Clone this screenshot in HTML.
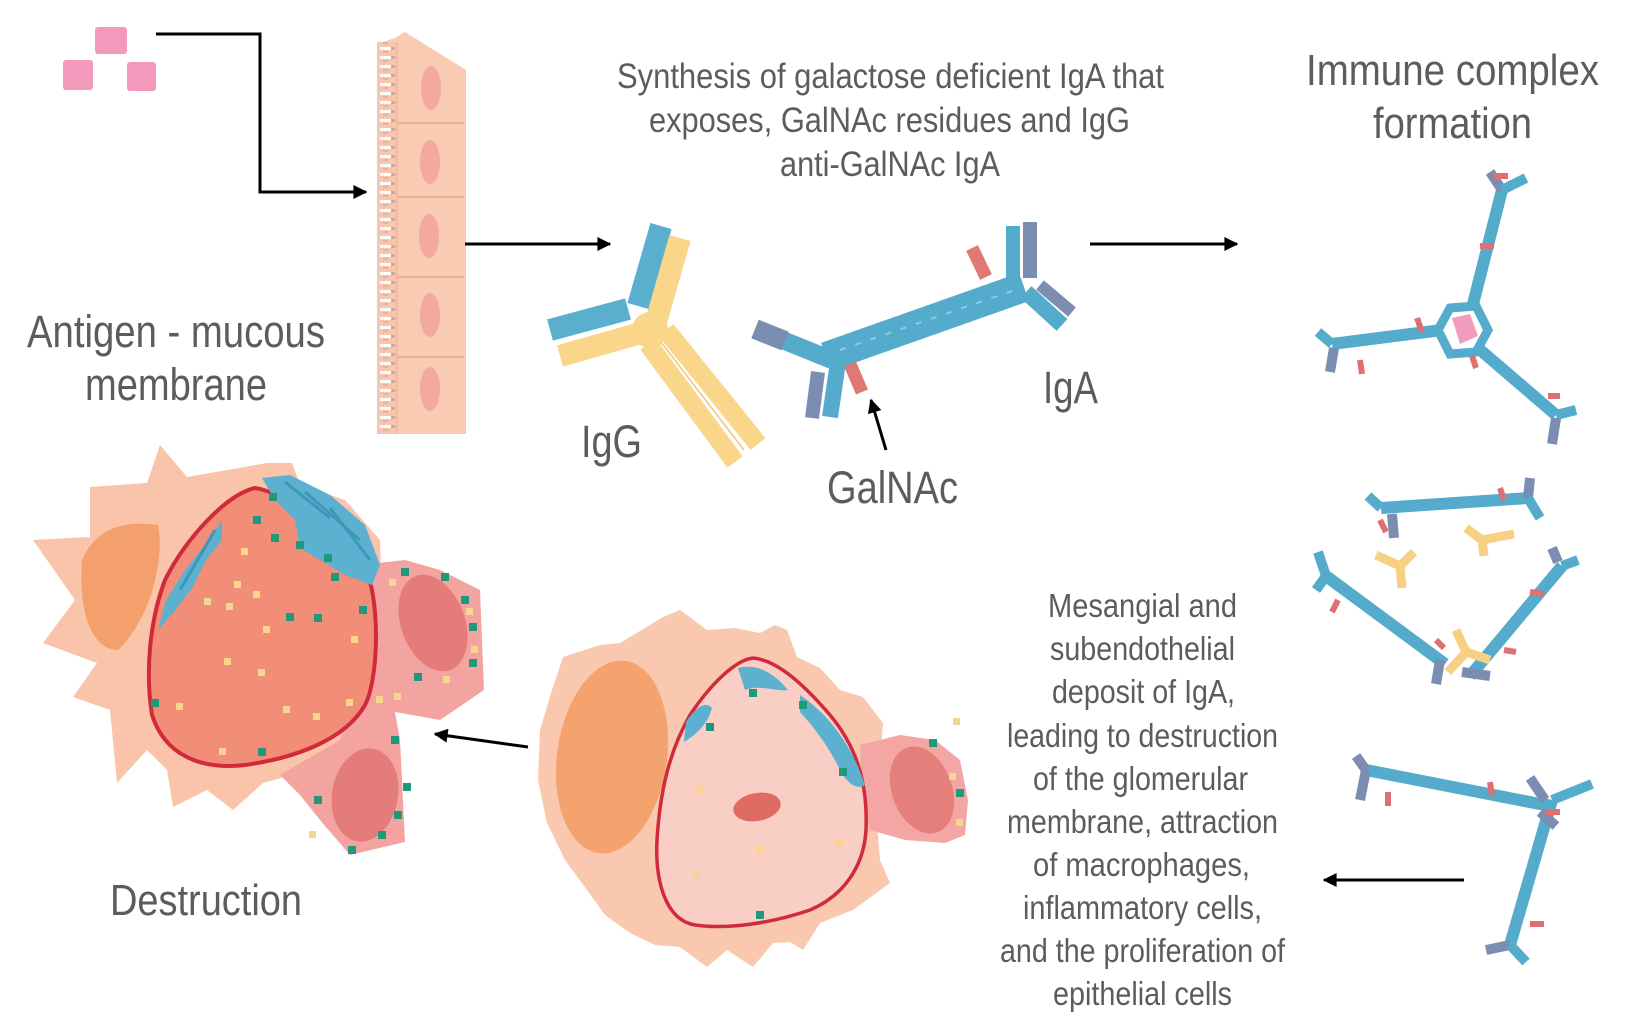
<!DOCTYPE html>
<html><head><meta charset="utf-8"><style>
html,body{margin:0;padding:0;background:#fff;}
svg{display:block;}
text{font-family:"Liberation Sans",Arial,sans-serif;fill:#5c5c60;}
</style></head><body>
<svg width="1628" height="1024" viewBox="0 0 1628 1024" xmlns="http://www.w3.org/2000/svg">
<defs>
<marker id="ah" viewBox="0 0 10 10" refX="9" refY="5" markerUnits="userSpaceOnUse" markerWidth="16" markerHeight="14" orient="auto">
<path d="M0,0 L10,5 L0,10 z" fill="#000"/>
</marker>
<pattern id="villi" x="0" y="0" width="20" height="9" patternUnits="userSpaceOnUse">
<rect x="0" y="0" width="20" height="9" fill="#f6c7ae"/>
<rect x="0" y="2" width="11" height="3" fill="#fff"/>
<rect x="11" y="2" width="4" height="3" fill="#d9a590"/>
<rect x="3" y="6" width="5" height="2" fill="#e4b39d"/>
</pattern>
</defs>

<!-- antigen squares -->
<rect x="95" y="27" width="32" height="27" rx="3" fill="#f29abb"/>
<rect x="63" y="60" width="30" height="30" rx="3" fill="#f29abb"/>
<rect x="127" y="62" width="29" height="29" rx="3" fill="#f29abb"/>

<!-- elbow arrow -->
<polyline points="156,34 260,34 260,192 366,192" fill="none" stroke="#000" stroke-width="3" marker-end="url(#ah)"/>

<!-- epithelium -->
<polygon points="377,44 395,38 405,32 466,70 466,434 378,434" fill="#f9cbb2"/>
<rect x="377" y="42" width="20" height="392" fill="url(#villi)"/>
<g stroke="#e6ae98" stroke-width="2">
<line x1="397" y1="123" x2="464" y2="123"/>
<line x1="397" y1="197" x2="464" y2="197"/>
<line x1="397" y1="277" x2="464" y2="277"/>
<line x1="397" y1="357" x2="464" y2="357"/>
<line x1="397" y1="42" x2="397" y2="434" stroke="#f0bca5"/>
</g>
<g fill="#f3a9a0">
<ellipse cx="431" cy="88" rx="10" ry="22"/>
<ellipse cx="430" cy="162" rx="10" ry="22"/>
<ellipse cx="429" cy="236" rx="10" ry="22"/>
<ellipse cx="430" cy="315" rx="10" ry="22"/>
<ellipse cx="430" cy="389" rx="10" ry="22"/>
</g>

<!-- arrows -->
<line x1="465" y1="244" x2="610" y2="244" stroke="#000" stroke-width="3" marker-end="url(#ah)"/>
<line x1="1090" y1="244" x2="1237" y2="244" stroke="#000" stroke-width="3" marker-end="url(#ah)"/>
<line x1="886" y1="450" x2="871" y2="400" stroke="#000" stroke-width="3" marker-end="url(#ah)"/>
<line x1="1464" y1="880" x2="1324" y2="880" stroke="#000" stroke-width="3" marker-end="url(#ah)"/>
<line x1="528" y1="747" x2="435" y2="734" stroke="#000" stroke-width="3" marker-end="url(#ah)"/>

<!-- IgG -->
<g stroke-linecap="butt">
<line x1="666" y1="330" x2="758" y2="444" stroke="#f9d68a" stroke-width="19"/>
<line x1="648" y1="344" x2="735" y2="462" stroke="#f9d68a" stroke-width="19"/>
<line x1="657" y1="337" x2="744" y2="450" stroke="#eec77a" stroke-width="1.5"/>
<line x1="661" y1="226" x2="638" y2="306" stroke="#5aafcf" stroke-width="22"/>
<line x1="680" y1="238" x2="656" y2="322" stroke="#f9d68a" stroke-width="22"/>
<line x1="550" y1="330" x2="628" y2="309" stroke="#5aafcf" stroke-width="22"/>
<line x1="560" y1="356" x2="644" y2="332" stroke="#f9d68a" stroke-width="22"/>
<circle cx="650" cy="330" r="18" fill="#f9d68a" stroke="none"/>
</g>

<!-- IgA -->
<g stroke-linecap="butt">
<line x1="826" y1="357" x2="1024" y2="287" stroke="#55abcb" stroke-width="30"/>
<line x1="840" y1="350" x2="1015" y2="290" stroke="#8ccbe0" stroke-width="2" stroke-dasharray="6 10"/>
<line x1="832" y1="360" x2="780" y2="339" stroke="#55abcb" stroke-width="18"/>
<line x1="785" y1="341" x2="755" y2="329" stroke="#7b8db1" stroke-width="20"/>
<line x1="838" y1="362" x2="830" y2="417" stroke="#55abcb" stroke-width="16"/>
<line x1="818" y1="372" x2="812" y2="418" stroke="#7b8db1" stroke-width="14"/>
<line x1="850" y1="364" x2="862" y2="392" stroke="#e07874" stroke-width="13"/>
<line x1="972" y1="248" x2="986" y2="277" stroke="#e07874" stroke-width="13"/>
<line x1="1013" y1="226" x2="1013" y2="285" stroke="#55abcb" stroke-width="14"/>
<line x1="1030" y1="222" x2="1030" y2="278" stroke="#7b8db1" stroke-width="14"/>
<line x1="1026" y1="292" x2="1062" y2="325" stroke="#55abcb" stroke-width="16"/>
<line x1="1040" y1="285" x2="1072" y2="312" stroke="#7b8db1" stroke-width="12"/>
</g>

<!-- Immune complex 1 -->
<g stroke-linecap="butt" fill="none">
<line x1="1472" y1="308" x2="1502" y2="190" stroke="#55abcb" stroke-width="12"/>
<line x1="1502" y1="190" x2="1490" y2="172" stroke="#7b8db1" stroke-width="10"/>
<line x1="1502" y1="190" x2="1526" y2="178" stroke="#55abcb" stroke-width="10"/>
<line x1="1442" y1="330" x2="1332" y2="344" stroke="#55abcb" stroke-width="12"/>
<line x1="1332" y1="344" x2="1318" y2="332" stroke="#55abcb" stroke-width="10"/>
<line x1="1334" y1="348" x2="1330" y2="372" stroke="#7b8db1" stroke-width="10"/>
<line x1="1478" y1="348" x2="1556" y2="415" stroke="#55abcb" stroke-width="12"/>
<line x1="1556" y1="415" x2="1576" y2="410" stroke="#55abcb" stroke-width="10"/>
<line x1="1556" y1="418" x2="1552" y2="444" stroke="#7b8db1" stroke-width="10"/>
<polygon points="1450,308 1476,306 1488,330 1476,352 1450,354 1438,330" stroke="#55abcb" stroke-width="9"/>
<polygon points="1452,318 1470,314 1478,336 1460,344" fill="#f29bbd" stroke="none"/>
<g stroke="#e07070" stroke-width="6">
<line x1="1480" y1="246" x2="1494" y2="246"/>
<line x1="1417" y1="318" x2="1422" y2="332"/>
<line x1="1472" y1="356" x2="1476" y2="368"/>
<line x1="1360" y1="360" x2="1362" y2="374"/>
<line x1="1548" y1="396" x2="1560" y2="396"/>
<line x1="1494" y1="176" x2="1508" y2="176"/>
</g>
</g>

<!-- Immune complex 2 -->
<g stroke-linecap="butt" fill="none">
<line x1="1381" y1="508" x2="1528" y2="498" stroke="#55abcb" stroke-width="12"/>
<line x1="1381" y1="508" x2="1368" y2="496" stroke="#55abcb" stroke-width="10"/>
<line x1="1392" y1="514" x2="1394" y2="538" stroke="#7b8db1" stroke-width="10"/>
<line x1="1528" y1="498" x2="1530" y2="478" stroke="#7b8db1" stroke-width="10"/>
<line x1="1528" y1="498" x2="1540" y2="518" stroke="#55abcb" stroke-width="10"/>
<line x1="1326" y1="576" x2="1445" y2="664" stroke="#55abcb" stroke-width="12"/>
<line x1="1326" y1="576" x2="1318" y2="552" stroke="#55abcb" stroke-width="10"/>
<line x1="1326" y1="576" x2="1316" y2="590" stroke="#55abcb" stroke-width="10"/>
<line x1="1562" y1="566" x2="1470" y2="676" stroke="#55abcb" stroke-width="12"/>
<line x1="1562" y1="566" x2="1578" y2="560" stroke="#55abcb" stroke-width="10"/>
<line x1="1558" y1="562" x2="1552" y2="548" stroke="#7b8db1" stroke-width="10"/>
<line x1="1440" y1="660" x2="1436" y2="684" stroke="#7b8db1" stroke-width="10"/>
<line x1="1462" y1="672" x2="1490" y2="676" stroke="#7b8db1" stroke-width="10"/>
<g stroke="#f7d183" stroke-width="9">
<line x1="1376" y1="555" x2="1400" y2="566"/><line x1="1400" y1="566" x2="1414" y2="552"/><line x1="1400" y1="566" x2="1402" y2="588"/>
<line x1="1466" y1="528" x2="1482" y2="540"/><line x1="1482" y1="540" x2="1514" y2="534"/><line x1="1482" y1="540" x2="1484" y2="556"/>
<line x1="1448" y1="672" x2="1470" y2="648"/><line x1="1466" y1="652" x2="1490" y2="660"/><line x1="1466" y1="652" x2="1456" y2="630"/>
</g>
<g stroke="#e07070" stroke-width="6">
<line x1="1380" y1="520" x2="1386" y2="532"/><line x1="1500" y1="488" x2="1504" y2="500"/>
<line x1="1338" y1="600" x2="1332" y2="612"/><line x1="1436" y1="640" x2="1444" y2="648"/>
<line x1="1530" y1="592" x2="1544" y2="594"/><line x1="1504" y1="650" x2="1516" y2="652"/>
</g>
</g>

<!-- Immune complex 3 -->
<g stroke-linecap="butt" fill="none">
<line x1="1366" y1="770" x2="1545" y2="805" stroke="#55abcb" stroke-width="12"/>
<line x1="1552" y1="800" x2="1510" y2="945" stroke="#55abcb" stroke-width="12"/>
<line x1="1366" y1="770" x2="1356" y2="756" stroke="#7b8db1" stroke-width="10"/>
<line x1="1366" y1="770" x2="1360" y2="800" stroke="#7b8db1" stroke-width="10"/>
<line x1="1545" y1="800" x2="1530" y2="778" stroke="#7b8db1" stroke-width="10"/>
<line x1="1552" y1="800" x2="1592" y2="784" stroke="#55abcb" stroke-width="10"/>
<line x1="1540" y1="812" x2="1556" y2="826" stroke="#7b8db1" stroke-width="10"/>
<line x1="1510" y1="945" x2="1486" y2="950" stroke="#7b8db1" stroke-width="10"/>
<line x1="1510" y1="945" x2="1526" y2="962" stroke="#55abcb" stroke-width="10"/>
<g stroke="#e07070" stroke-width="6">
<line x1="1388" y1="792" x2="1388" y2="806"/><line x1="1490" y1="782" x2="1492" y2="796"/>
<line x1="1546" y1="812" x2="1560" y2="812"/><line x1="1530" y1="924" x2="1544" y2="924"/>
</g>
</g>

<!-- Destruction cell -->
<polygon points="33,540 90,537 90,487 147,483 160,445 187,477 267,463 292,463 300,485 345,500 380,540 385,700 345,760 263,783 233,810 207,790 173,807 167,770 147,750 117,783 110,710 73,697 97,663 43,643 75,600" fill="#f9c4aa"/>
<path d="M82,560 C95,530 120,520 158,525 C165,560 150,620 118,650 C95,650 78,620 82,560 Z" fill="#f4a06d"/>
<polygon points="360,565 405,560 440,570 480,590 484,690 440,720 395,712 400,740 405,842 350,855 320,820 300,795 280,775 340,740 372,660" fill="#f3a4a0"/>
<ellipse cx="433" cy="623" rx="32" ry="50" transform="rotate(-20 433 623)" fill="#e47d79"/>
<ellipse cx="365" cy="795" rx="33" ry="47" transform="rotate(10 365 795)" fill="#e47d79"/>
<path d="M255,488 C285,492 340,535 368,575 C380,610 378,680 365,705 C345,740 295,758 245,765 C200,770 165,755 152,715 C145,670 150,620 165,580 C185,540 225,495 255,488 Z" fill="#f28e78" stroke="#d12a3a" stroke-width="4"/>
<polygon points="262,478 290,475 330,495 365,525 380,565 372,585 345,575 320,560 300,548 295,520 275,500" fill="#5cb1d1"/>
<polygon points="222,520 205,545 185,570 166,600 158,630 174,612 192,588 206,560 222,540" fill="#5cb1d1"/>
<g stroke="#3f97b8" stroke-width="3">
<line x1="285" y1="482" x2="330" y2="518"/><line x1="305" y1="492" x2="360" y2="540"/><line x1="330" y1="508" x2="370" y2="560"/>
<line x1="215" y1="530" x2="180" y2="590"/>
</g>
<g fill="#1e9a7a">
<rect x="269" y="493" width="8" height="8"/><rect x="253" y="516" width="8" height="8"/><rect x="271" y="534" width="8" height="8"/>
<rect x="296" y="541" width="8" height="8"/><rect x="324" y="554" width="8" height="8"/><rect x="331" y="573" width="8" height="8"/>
<rect x="359" y="606" width="8" height="8"/><rect x="286" y="613" width="8" height="8"/><rect x="314" y="614" width="8" height="8"/>
<rect x="401" y="568" width="8" height="8"/><rect x="441" y="573" width="8" height="8"/><rect x="461" y="596" width="8" height="8"/>
<rect x="469" y="623" width="8" height="8"/><rect x="469" y="659" width="8" height="8"/><rect x="414" y="673" width="8" height="8"/>
<rect x="151" y="699" width="8" height="8"/><rect x="258" y="748" width="8" height="8"/><rect x="391" y="736" width="8" height="8"/>
<rect x="403" y="783" width="8" height="8"/><rect x="394" y="811" width="8" height="8"/><rect x="378" y="831" width="8" height="8"/>
<rect x="348" y="846" width="8" height="8"/><rect x="314" y="796" width="8" height="8"/>
</g>
<g fill="#f8d48c">
<rect x="241" y="548" width="7" height="7"/><rect x="234" y="581" width="7" height="7"/><rect x="253" y="591" width="7" height="7"/>
<rect x="204" y="598" width="7" height="7"/><rect x="226" y="603" width="7" height="7"/><rect x="263" y="626" width="7" height="7"/>
<rect x="351" y="636" width="7" height="7"/><rect x="224" y="658" width="7" height="7"/><rect x="258" y="669" width="7" height="7"/>
<rect x="176" y="703" width="7" height="7"/><rect x="283" y="706" width="7" height="7"/><rect x="313" y="713" width="7" height="7"/>
<rect x="346" y="699" width="7" height="7"/><rect x="219" y="748" width="7" height="7"/><rect x="389" y="579" width="7" height="7"/>
<rect x="466" y="608" width="7" height="7"/><rect x="471" y="646" width="7" height="7"/><rect x="443" y="676" width="7" height="7"/>
<rect x="394" y="693" width="7" height="7"/><rect x="376" y="696" width="7" height="7"/><rect x="309" y="831" width="7" height="7"/>
</g>

<!-- Middle cell -->
<polygon points="540,730 552,690 563,657 600,645 620,643 650,625 663,617 680,610 707,630 735,628 760,633 775,625 787,630 797,657 820,668 840,690 863,697 883,723 880,760 875,800 880,860 890,883 853,910 820,923 803,950 790,942 773,943 753,967 727,950 707,967 680,947 655,945 630,933 605,915 587,890 565,860 547,823 538,780" fill="#f9c8ae"/>
<ellipse cx="612" cy="757" rx="55" ry="97" transform="rotate(8 612 757)" fill="#f4a36f"/>
<polygon points="860,745 900,735 935,740 960,760 968,800 965,835 945,843 905,840 870,830 862,790" fill="#f3a6a4"/>
<ellipse cx="922" cy="790" rx="30" ry="45" transform="rotate(-20 922 790)" fill="#e57f7b"/>
<path d="M753,658 C775,660 800,680 830,715 C855,745 868,780 866,830 C864,865 845,895 810,910 C775,922 730,930 695,925 C665,920 655,880 657,840 C660,790 670,750 690,715 C710,685 735,660 753,658 Z" fill="#f9cfc5" stroke="#d12a3a" stroke-width="3.5"/>
<path d="M738,668 C752,664 770,668 788,690 C775,692 760,684 745,690 Z" fill="#5cb1d1"/>
<path d="M686,722 C695,708 705,700 712,708 C708,722 700,732 684,742 Z" fill="#5cb1d1"/>
<path d="M800,695 C825,712 850,740 865,785 C858,790 848,785 840,770 C828,745 812,725 800,712 Z" fill="#5cb1d1"/>
<ellipse cx="757" cy="807" rx="24" ry="14" transform="rotate(-10 757 807)" fill="#e06b65"/>
<g fill="#1e9a7a">
<rect x="749" y="689" width="8" height="8"/><rect x="706" y="723" width="8" height="8"/><rect x="799" y="701" width="8" height="8"/>
<rect x="839" y="768" width="8" height="8"/><rect x="756" y="911" width="8" height="8"/><rect x="929" y="739" width="8" height="8"/>
<rect x="956" y="789" width="8" height="8"/>
</g>
<g fill="#f8d48c">
<rect x="953" y="718" width="7" height="7"/><rect x="696" y="786" width="7" height="7"/><rect x="756" y="846" width="7" height="7"/>
<rect x="836" y="839" width="7" height="7"/><rect x="693" y="871" width="7" height="7"/><rect x="949" y="773" width="7" height="7"/>
<rect x="956" y="819" width="7" height="7"/>
</g>

<!-- Text -->
<text x="617" y="88" font-size="35" textLength="547" lengthAdjust="spacingAndGlyphs">Synthesis of galactose deficient IgA that</text>
<text x="649" y="132" font-size="35" textLength="481" lengthAdjust="spacingAndGlyphs">exposes, GalNAc residues and IgG</text>
<text x="780" y="176" font-size="35" textLength="220" lengthAdjust="spacingAndGlyphs">anti-GalNAc IgA</text>

<text x="1306" y="85" font-size="44" textLength="293" lengthAdjust="spacingAndGlyphs">Immune complex</text>
<text x="1373" y="138" font-size="44" textLength="159" lengthAdjust="spacingAndGlyphs">formation</text>

<text x="27" y="347" font-size="45" textLength="298" lengthAdjust="spacingAndGlyphs">Antigen - mucous</text>
<text x="85" y="400" font-size="45" textLength="182" lengthAdjust="spacingAndGlyphs">membrane</text>

<text x="581" y="457" font-size="45" textLength="61" lengthAdjust="spacingAndGlyphs">IgG</text>
<text x="1043" y="403" font-size="45" textLength="55" lengthAdjust="spacingAndGlyphs">IgA</text>
<text x="827" y="503" font-size="45" textLength="131" lengthAdjust="spacingAndGlyphs">GalNAc</text>
<text x="110" y="915" font-size="44" textLength="192" lengthAdjust="spacingAndGlyphs">Destruction</text>

<g font-size="33">
<text x="1048" y="617" textLength="189" lengthAdjust="spacingAndGlyphs">Mesangial and</text>
<text x="1050" y="660" textLength="185" lengthAdjust="spacingAndGlyphs">subendothelial</text>
<text x="1052" y="703" textLength="183" lengthAdjust="spacingAndGlyphs">deposit of IgA,</text>
<text x="1007" y="747" textLength="271" lengthAdjust="spacingAndGlyphs">leading to destruction</text>
<text x="1033" y="790" textLength="215" lengthAdjust="spacingAndGlyphs">of the glomerular</text>
<text x="1007" y="833" textLength="271" lengthAdjust="spacingAndGlyphs">membrane, attraction</text>
<text x="1033" y="876" textLength="217" lengthAdjust="spacingAndGlyphs">of macrophages,</text>
<text x="1023" y="919" textLength="239" lengthAdjust="spacingAndGlyphs">inflammatory cells,</text>
<text x="1000" y="962" textLength="285" lengthAdjust="spacingAndGlyphs">and the proliferation of</text>
<text x="1053" y="1005" textLength="179" lengthAdjust="spacingAndGlyphs">epithelial cells</text>
</g>
</svg>
</body></html>
